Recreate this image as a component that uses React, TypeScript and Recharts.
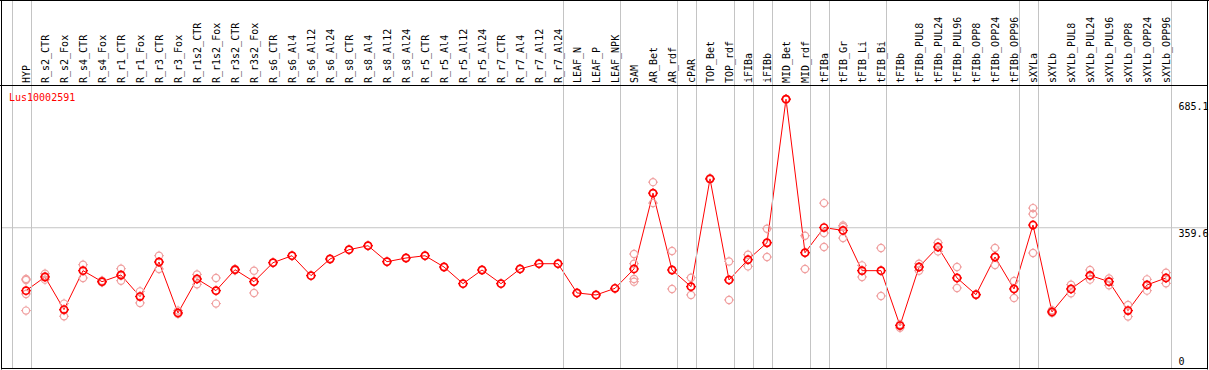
import React from 'react';
import { ComposedChart, Line, Scatter, XAxis, YAxis, ReferenceLine } from 'recharts';

// sample names, left to right
const CATEGORIES = [
  'HYP',
  'R_s2_CTR', 'R_s2_Fox', 'R_s4_CTR', 'R_s4_Fox', 'R_r1_CTR', 'R_r1_Fox', 'R_r3_CTR', 'R_r3_Fox',
  'R_r1s2_CTR', 'R_r1s2_Fox', 'R_r3s2_CTR', 'R_r3s2_Fox',
  'R_s6_CTR', 'R_s6_Al4', 'R_s6_Al12', 'R_s6_Al24', 'R_s8_CTR', 'R_s8_Al4', 'R_s8_Al12', 'R_s8_Al24',
  'R_r5_CTR', 'R_r5_Al4', 'R_r5_Al12', 'R_r5_Al24', 'R_r7_CTR', 'R_r7_Al4', 'R_r7_Al12', 'R_r7_Al24',
  'LEAF_N', 'LEAF_P', 'LEAF_NPK',
  'SAM', 'AR_Bet', 'AR_rdf',
  'cPAR',
  'TOP_Bet', 'TOP_rdf',
  'iFIBa', 'iFIBb',
  'MID_Bet', 'MID_rdf',
  'tFIBa',
  'tFIB_Gr', 'tFIB_Li', 'tFIB_Bi',
  'tFIBb', 'tFIBb_PUL8', 'tFIBb_PUL24', 'tFIBb_PUL96', 'tFIBb_OPP8', 'tFIBb_OPP24', 'tFIBb_OPP96',
  'sXYLa',
  'sXYLb', 'sXYLb_PUL8', 'sXYLb_PUL24', 'sXYLb_PUL96', 'sXYLb_OPP8', 'sXYLb_OPP24', 'sXYLb_OPP96',
];

// first sample of each group (a grey divider sits before each one)
const GROUP_STARTS = [
  'HYP', 'R_s2_CTR', 'LEAF_N', 'SAM', 'cPAR', 'TOP_Bet', 'iFIBa', 'iFIBb', 'MID_Bet',
  'tFIBa', 'tFIB_Gr', 'tFIBb', 'sXYLa', 'sXYLb',
];

// mean expression per sample
const MEANS = [
  200.6,
  235.1, 152.7, 251.1, 223.3, 240.2, 185.5, 273.0, 144.3,
  230.1, 200.6, 253.6, 223.3,
  271.3, 288.9, 238.5, 280.6, 304.1, 314.2, 273.8, 283.1,
  288.9, 260.4, 218.3, 252.8, 218.3, 255.4, 268.7, 268.7,
  194.8, 189.7, 206.4,
  255.4, 447.1, 252.8,
  210.7,
  483.2, 227.6,
  278.8, 321.7,
  684.5, 296.5,
  360.0,
  352.8, 251.1, 251.1,
  112.3, 260.4, 310.9, 232.7, 190.5, 285.6, 204.9,
  366.4,
  146.9, 204.9, 239.2, 223.3, 150.1, 215.0, 232.7,
];

// individual replicates per sample
const REPLICATES = [
  [230.1, 227.6, 192.3, 150.1],
  [243.5, 236.7, 228.4], [167.8, 150.9, 135.8], [266.2, 251.1, 232.7], [225.8, 223.3, 221.6],
  [256.1, 238.5, 225.8], [198.8, 186.2, 169.6], [288.9, 273.0, 255.4], [150.1, 144.3, 141.8],
  [241.7, 230.1, 216.5], [232.7, 200.6, 167.8], [255.4, 251.8], [251.1, 223.3, 194.8],
  [271.3], [288.9], [238.5], [280.6], [304.1], [314.2], [273.8], [283.1],
  [288.9], [260.4], [218.3], [252.8], [218.3], [255.4], [268.7], [268.7],
  [194.8], [189.7], [206.4],
  [293.2, 268.7, 230.1, 223.3], [474.9, 447.1, 421.9], [300.8, 252.8, 204.9],
  [233.4, 210.7, 189.8],
  [485.0, 481.5], [274.5, 227.6, 177.1],
  [291.5, 278.8, 261.9], [357.1, 321.7, 285.6],
  [685.1, 683.2, 685.1], [339.4, 296.5, 255.4],
  [421.9, 346.2, 310.9],
  [365.4, 361.4, 333.6], [264.5, 251.1, 235.2], [308.4, 251.1, 187.2],
  [114.8, 112.3, 106.5], [268.7, 260.4, 251.1], [321.7, 310.9, 299.8], [260.4, 232.7, 207.4],
  [191.3, 190.5, 189.6], [308.4, 285.6, 265.5], [225.1, 204.9, 182.2],
  [409.3, 394.2, 295.7],
  [150.9, 146.9, 144.3], [215.8, 204.9, 193.8], [252.8, 239.2, 228.4], [231.6, 223.3, 214.0],
  [164.5, 150.1, 135.0], [229.1, 215.0, 200.6], [246.0, 232.7, 219.0],
];

const Y_TICKS = [0, 359.6, 685.1];
const REF_LEVEL = 359.6;
const GENE = 'Lus10002591';

// layout
const W = 1209;
const H = 370;
const PLOT_LEFT = 1;
const STEP = 19; // px per sample
const X_MIN = -25 / STEP;
const X_MAX = X_MIN + 1207 / STEP;
const Y_TOP = 932.8; // leaves room for the label header above the data
const DIV_OFFSET = 14.5; // divider sits this many px left of a group's first sample
const FONT = '"DejaVu Sans Mono", monospace';
const RED = '#ff0000';
const PINK = '#f0a0a0';
const GRID = '#c4c4c4';

const lineData = MEANS.map((m, i) => ({ x: i, mean: m }));
const repData = REPLICATES.flatMap((reps, i) => reps.map((r) => ({ x: i, y: r })));
const groupStartIdx = new Set(GROUP_STARTS.map((n) => CATEGORIES.indexOf(n)));
const firstDivider = Math.round(PLOT_LEFT + (0 - X_MIN) * STEP - DIV_OFFSET) + 0.5;

function Marker({ cx, cy, color, sw }: any) {
  if (cx == null || cy == null) return null;
  const r = 3.6;
  return (
    <g stroke={color} fill="none" strokeWidth={sw}>
      <circle cx={cx} cy={cy} r={r} />
      <line x1={cx} y1={cy - r - 1.4} x2={cx} y2={cy - r} strokeWidth={1} />
      <line x1={cx} y1={cy + r} x2={cx} y2={cy + r + 1.4} strokeWidth={1} />
      <line x1={cx - r - 1.4} y1={cy} x2={cx - r} y2={cy} strokeWidth={1} />
      <line x1={cx + r} y1={cy} x2={cx + r + 1.4} y2={cy} strokeWidth={1} />
    </g>
  );
}

// rotated sample label, plus the grey group divider running through header and plot
function renderCatTick(props: any) {
  const { x, payload, index } = props;
  const i = payload.value;
  const label = CATEGORIES[i];
  if (label == null) return <g key={index} />;
  const tx = x + 3.5;
  const ty = 83;
  const left = Math.round(x - DIV_OFFSET) + 0.5;
  const right = Math.round(x + STEP - DIV_OFFSET) + 0.5;
  return (
    <g key={index}>
      {groupStartIdx.has(i) && <line x1={left} y1={0} x2={left} y2={369} stroke={GRID} />}
      {i === CATEGORIES.length - 1 && <line x1={right} y1={0} x2={right} y2={369} stroke={GRID} />}
      <text x={tx} y={ty} transform={`rotate(-90, ${tx}, ${ty})`} fontFamily={FONT} fontSize={10} fill="#000">
        {label}
      </text>
    </g>
  );
}

function renderValueTick(props: any) {
  const { y, payload, index } = props;
  const ty = Math.min(365, Math.max(110, y + 9));
  return (
    <text key={index} x={1178.5} y={ty} fontFamily={FONT} fontSize={10} fill="#000">
      {payload.value}
    </text>
  );
}

export default function App() {
  return (
    <div style={{ position: 'absolute', left: 0, top: 0, width: W, height: H, background: '#fff' }}>
      <ComposedChart width={W} height={H} margin={{ top: 0, right: 0, bottom: 0, left: PLOT_LEFT }}>
        <XAxis
          xAxisId="cat"
          dataKey="x"
          type="number"
          orientation="top"
          domain={[X_MIN, X_MAX]}
          ticks={CATEGORIES.map((_, i) => i)}
          interval={0}
          height={1}
          allowDataOverflow
          axisLine={false}
          tickLine={false}
          tick={renderCatTick}
        />
        <YAxis
          type="number"
          orientation="right"
          domain={[0, Y_TOP]}
          ticks={Y_TICKS}
          interval={0}
          width={1}
          allowDataOverflow
          axisLine={false}
          tickLine={false}
          tick={renderValueTick}
        />
        <ReferenceLine xAxisId="cat" y={REF_LEVEL} stroke={GRID} strokeWidth={1} />
        <Scatter
          xAxisId="cat"
          data={repData}
          dataKey="y"
          isAnimationActive={false}
          shape={(p: any) => <Marker cx={p.cx} cy={p.cy} color={PINK} sw={1.2} />}
        />
        <Line
          xAxisId="cat"
          data={lineData}
          dataKey="mean"
          stroke={RED}
          strokeWidth={1}
          isAnimationActive={false}
          dot={(p: any) => <Marker key={p.index} cx={p.cx} cy={p.cy} color={RED} sw={1.7} />}
          activeDot={false}
        />
      </ComposedChart>
      <svg width={W} height={H} style={{ position: 'absolute', left: 0, top: 0, pointerEvents: 'none' }}>
        <line x1={firstDivider} y1={0} x2={firstDivider} y2={369} stroke={GRID} />
        <g stroke="#000" strokeWidth={1} fill="none">
          <line x1={0} y1={0.5} x2={W} y2={0.5} />
          <line x1={0} y1={85.5} x2={1208} y2={85.5} />
          <line x1={1.5} y1={0} x2={1.5} y2={369.5} />
          <line x1={1207.5} y1={0} x2={1207.5} y2={369.5} />
          <line x1={1} y1={368.5} x2={1208} y2={368.5} />
        </g>
        <text x={9} y={100.5} fontFamily={FONT} fontSize={10} fill={RED}>
          {GENE}
        </text>
      </svg>
    </div>
  );
}
